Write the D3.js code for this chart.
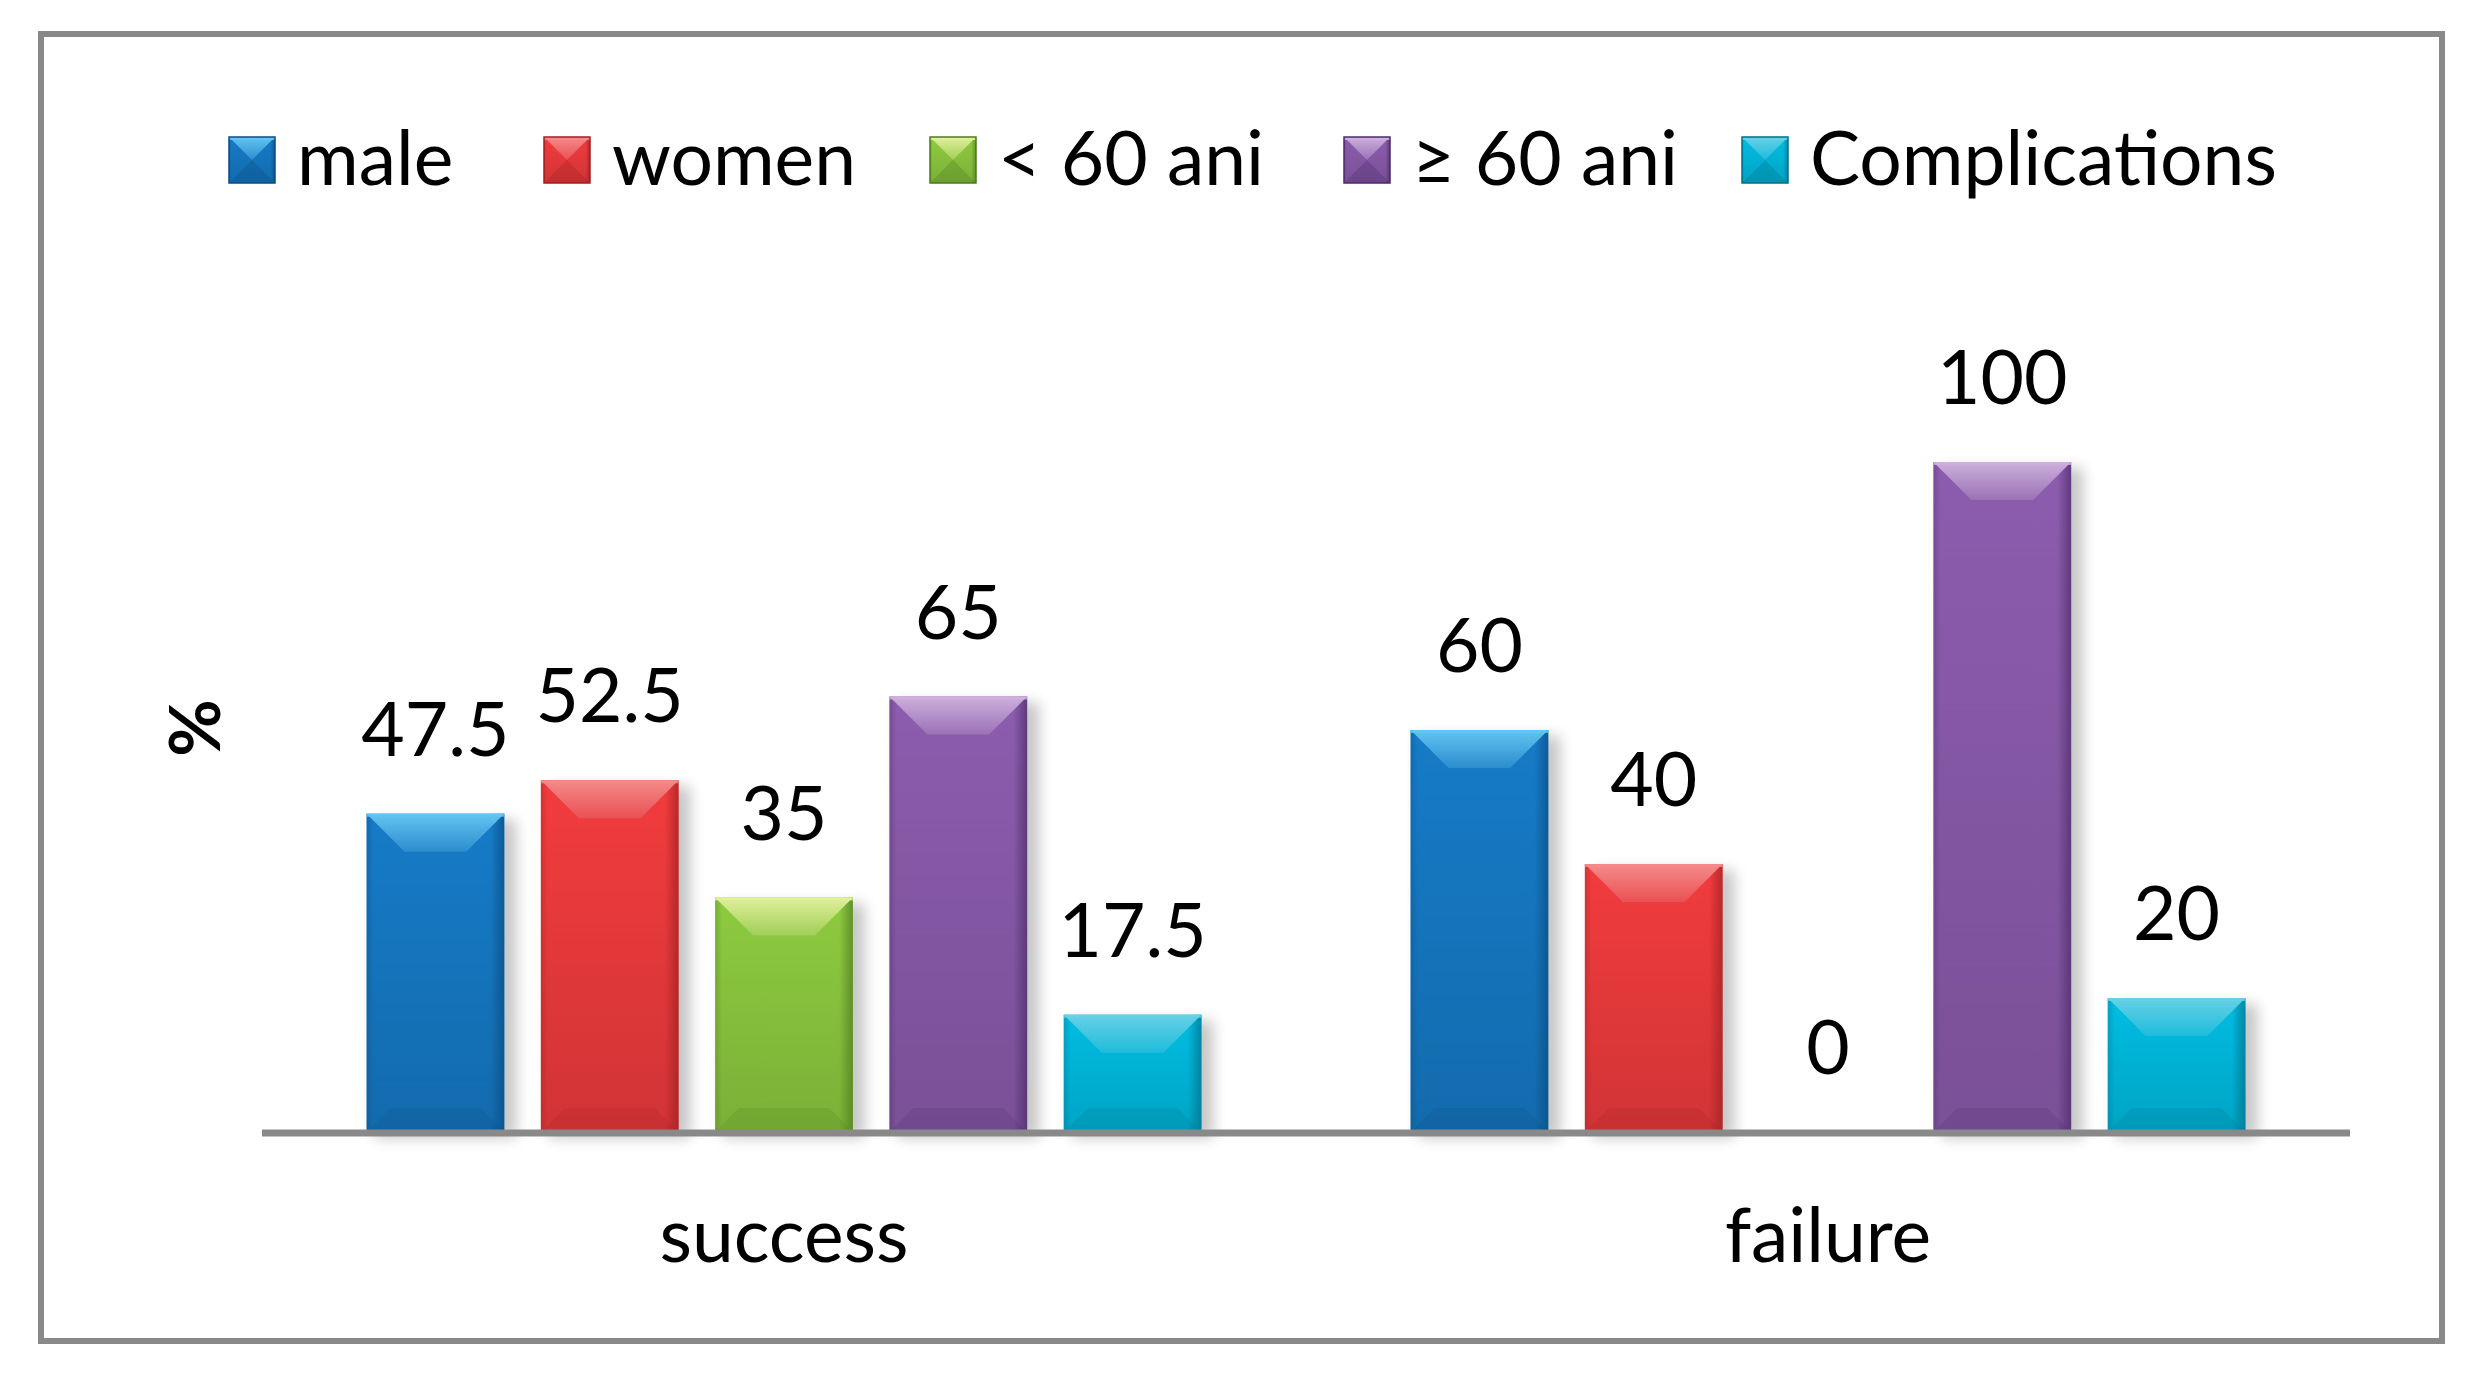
<!DOCTYPE html>
<html><head><meta charset="utf-8">
<script src="https://cdn.jsdelivr.net/npm/d3@7"></script>
<style>html,body{margin:0;padding:0;background:#fff;}svg{display:block;}</style>
</head><body>
<svg id="chart" width="2488" height="1386"></svg>
<script>
// ---- data ----
const categories = ["success", "failure"];
const seriesNames = ["male", "women", "< 60 ani", "\u2265 60 ani", "Complications"];
const successValues = [47.5, 52.5, 35, 65, 17.5];
const failureValues = [60, 40, 0, 100, 20];
const valueLabels = [["47.5", "52.5", "35", "65", "17.5"], ["60", "40", "0", "100", "20"]];
const yAxisTitle = "%";

// ---- styles ----
const palette = [
  {base:"#1575bd", light:"#62c4f2", dark:"#0a4c82"},
  {base:"#e5393b", light:"#f58a8a", dark:"#a02020"},
  {base:"#86c03c", light:"#e0f09a", dark:"#4d7a20"},
  {base:"#8557a5", light:"#cdb0dc", dark:"#4b2c68"},
  {base:"#00b3d6", light:"#66d0e6", dark:"#006f88"}
];
const FONT = "Lato, 'Open Sans', sans-serif";
const FS = 75;

const svg = d3.select("#chart");
const defs = svg.append("defs");

palette.forEach((p, i) => {
  const gv = defs.append("linearGradient").attr("id", "gv" + i).attr("x1", 0).attr("y1", 0).attr("x2", 0).attr("y2", 1);
  gv.append("stop").attr("offset", 0).attr("stop-color", d3.color(p.base).brighter(0.15));
  gv.append("stop").attr("offset", 1).attr("stop-color", d3.color(p.base).darker(0.25));
  const gh = defs.append("linearGradient").attr("id", "gh" + i).attr("x1", 0).attr("y1", 0).attr("x2", 1).attr("y2", 0);
  gh.append("stop").attr("offset", 0).attr("stop-color", p.dark).attr("stop-opacity", 0.35);
  gh.append("stop").attr("offset", 0.05).attr("stop-color", p.dark).attr("stop-opacity", 0);
  gh.append("stop").attr("offset", 0.9).attr("stop-color", p.dark).attr("stop-opacity", 0);
  gh.append("stop").attr("offset", 1).attr("stop-color", p.dark).attr("stop-opacity", 0.7);
  const gt = defs.append("linearGradient").attr("id", "gt" + i).attr("x1", 0).attr("y1", 0).attr("x2", 0).attr("y2", 1);
  gt.append("stop").attr("offset", 0).attr("stop-color", p.light);
  gt.append("stop").attr("offset", 1).attr("stop-color", d3.interpolateRgb(p.light, p.base)(0.7));
});
const blur = defs.append("filter").attr("id", "shadow").attr("x", "-20%").attr("y", "-20%").attr("width", "160%").attr("height", "160%");
blur.append("feGaussianBlur").attr("stdDeviation", 7);

// frame
svg.append("rect").attr("x", 41).attr("y", 34).attr("width", 2401).attr("height", 1307)
  .attr("fill", "#fff").attr("stroke", "#898989").attr("stroke-width", 6);

// scales
const x0 = d3.scaleBand().domain(categories).range([262, 2350]).paddingInner(0).paddingOuter(0);
const x1 = d3.scaleBand().domain(seriesNames).range([0, x0.bandwidth()]).paddingInner(0.21).paddingOuter(0.6);
const y = d3.scaleLinear().domain([0, 100]).range([1132, 462]);

const rows = categories.map((c, ci) => ({cat: c, values: ci === 0 ? successValues : failureValues, labels: valueLabels[ci]}));

function drawBevelBox(g, bx, by, bw, bh, i, bevelTop, bevelBot, botOp) {
  const p = palette[i];
  g.append("rect").attr("x", bx).attr("y", by).attr("width", bw).attr("height", bh).attr("fill", `url(#gv${i})`);
  g.append("rect").attr("x", bx).attr("y", by).attr("width", bw).attr("height", bh).attr("fill", `url(#gh${i})`);
  const bt = Math.min(bevelTop, bw / 2, bh / 2);
  g.append("polygon").attr("points", [[bx, by], [bx + bw, by], [bx + bw - bt, by + bt], [bx + bt, by + bt]].join(" "))
    .attr("fill", `url(#gt${i})`);
  const bb = Math.min(bevelBot, bw / 2, bh / 2);
  g.append("polygon").attr("points", [[bx, by + bh], [bx + bw, by + bh], [bx + bw - bb, by + bh - bb], [bx + bb, by + bh - bb]].join(" "))
    .attr("fill", p.dark).attr("opacity", botOp);
  g.append("rect").attr("x", bx).attr("y", by).attr("width", bw).attr("height", 3).attr("fill", p.light).attr("opacity", 0.8);
}

// bars
const groups = svg.append("g").selectAll("g").data(rows).join("g")
  .attr("transform", d => `translate(${x0(d.cat)},0)`);

groups.each(function(row) {
  const g = d3.select(this);
  row.values.forEach((v, i) => {
    const bx = x1(seriesNames[i]);
    const bw = x1.bandwidth();
    const by = y(v);
    const bh = y(0) - y(v);
    if (bh > 0) {
      g.append("rect").attr("x", bx + 8).attr("y", by + 6).attr("width", bw + 4).attr("height", bh)
        .attr("fill", "#000").attr("opacity", 0.22).attr("filter", "url(#shadow)");
      drawBevelBox(g.append("g"), bx, by, bw, bh, i, 38, 24, 0.18);
    }
    g.append("text").attr("x", bx + bw / 2).attr("y", y(v) - 58)
      .attr("text-anchor", "middle").attr("font-family", FONT).attr("font-size", FS).attr("fill", "#000")
      .text(row.labels[i]);
  });
});

// axis line
svg.append("line").attr("x1", 262).attr("x2", 2350).attr("y1", y(0) + 1).attr("y2", y(0) + 1)
  .attr("stroke", "#898989").attr("stroke-width", 7);

// category labels via axis
const xAxis = d3.axisBottom(x0).tickSize(0).tickPadding(0);
const ax = svg.append("g").attr("transform", `translate(0,${y(0)})`).call(xAxis);
ax.select(".domain").remove();
ax.selectAll("text").attr("font-family", FONT).attr("font-size", FS).attr("fill", "#000")
  .attr("dy", null).attr("y", 130);

// y title
svg.append("text").attr("transform", "translate(220,728) rotate(-90)")
  .attr("text-anchor", "middle").attr("font-family", FONT).attr("font-weight", "bold")
  .attr("font-size", 70).attr("fill", "#000").text(yAxisTitle);

// legend
const legendSlots = [229, 544, 930, 1344, 1742];
const leg = svg.append("g").selectAll("g").data(seriesNames).join("g")
  .attr("transform", (d, i) => `translate(${legendSlots[i]},137)`);
leg.each(function(d, i) {
  const g = d3.select(this);
  drawBevelBox(g, 0, 0, 46, 46, i, 23, 23, 0.3);
  g.append("rect").attr("width", 46).attr("height", 46).attr("fill", "none").attr("stroke", palette[i].dark).attr("stroke-width", 1.5);
  g.append("text").attr("x", 68).attr("y", 48).attr("font-family", FONT).attr("font-size", FS).attr("fill", "#000").text(d);
});
</script>
</body></html>
